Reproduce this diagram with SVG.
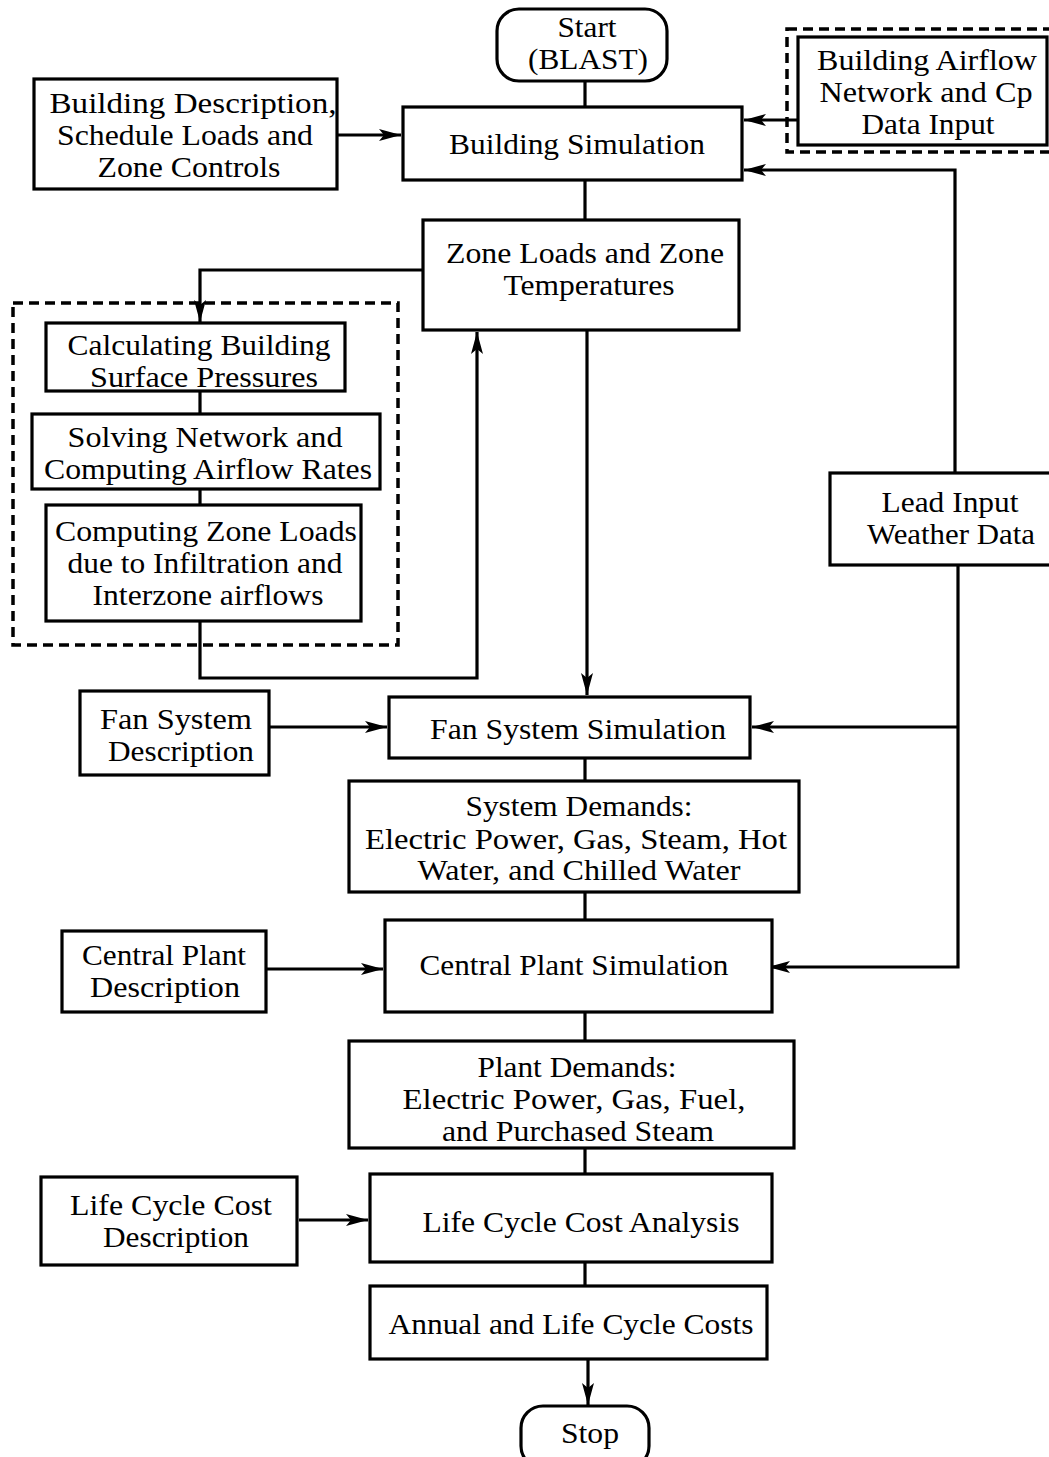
<svg xmlns="http://www.w3.org/2000/svg" width="1049" height="1457" viewBox="0 0 1049 1457">
<style>
.box{fill:#fff;stroke:#000;stroke-width:3.2}
.dash{fill:none;stroke:#000;stroke-width:3.5;stroke-dasharray:10 6}
.t{font-family:"Liberation Serif","Times New Roman",serif;font-size:29px;fill:#000;text-anchor:middle}
.c{fill:none;stroke:#000;stroke-width:3.2}
</style>
<defs>
<marker id="ah" markerUnits="userSpaceOnUse" markerWidth="24" markerHeight="14" refX="22" refY="6" orient="auto">
<path d="M0,0 L22,6 L0,12 L5,6 Z" fill="#000"/>
</marker>
</defs>
<rect width="1049" height="1457" fill="#fff"/>
<g id="connectors">
<path class="c" d="M585,81 V107"/>
<path class="c" d="M337,135 H401" marker-end="url(#ah)"/>
<path class="c" d="M798,120 H744" marker-end="url(#ah)"/>
<path class="c" d="M955,473 V170 H744" marker-end="url(#ah)"/>
<path class="c" d="M585,180 V220"/>
<path class="c" d="M423,270 H200 V322" marker-end="url(#ah)"/>
<path class="c" d="M200,391 V414"/>
<path class="c" d="M200,489 V505"/>
<path class="c" d="M200,621 V678 H477 V332" marker-end="url(#ah)"/>
<path class="c" d="M587,330 V695" marker-end="url(#ah)"/>
<path class="c" d="M269,727 H387" marker-end="url(#ah)"/>
<path class="c" d="M958,565 V967 H768" marker-end="url(#ah)"/>
<path class="c" d="M958,727 H752" marker-end="url(#ah)"/>
<path class="c" d="M585,758 V781"/>
<path class="c" d="M585,892 V920"/>
<path class="c" d="M266,969 H383" marker-end="url(#ah)"/>
<path class="c" d="M585,1012 V1041"/>
<path class="c" d="M585,1148 V1174"/>
<path class="c" d="M299,1220 H368" marker-end="url(#ah)"/>
<path class="c" d="M585,1262 V1286"/>
<path class="c" d="M588,1359 V1405" marker-end="url(#ah)"/>
</g>
<g id="start"><rect class="box" x="497" y="9" width="170" height="72" rx="22"/>
<text class="t" x="587" y="37" textLength="59" lengthAdjust="spacingAndGlyphs">Start</text><text class="t" x="588" y="69" textLength="120" lengthAdjust="spacingAndGlyphs">(BLAST)</text></g>
<g id="bldg-desc"><rect class="box" x="34" y="79" width="303" height="110"/>
<text class="t" x="193" y="113" textLength="287" lengthAdjust="spacingAndGlyphs">Building Description,</text><text class="t" x="185" y="145" textLength="256" lengthAdjust="spacingAndGlyphs">Schedule Loads and</text><text class="t" x="189" y="177" textLength="183" lengthAdjust="spacingAndGlyphs">Zone Controls</text></g>
<g id="bldg-sim"><rect class="box" x="403" y="107" width="339" height="73"/>
<text class="t" x="577" y="154" textLength="256" lengthAdjust="spacingAndGlyphs">Building Simulation</text></g>
<g id="airflow-group"><rect class="dash" x="787" y="29" width="270" height="123"/></g>
<g id="airflow-input"><rect class="box" x="798" y="37" width="249" height="108"/>
<text class="t" x="927" y="70" textLength="220" lengthAdjust="spacingAndGlyphs">Building Airflow</text><text class="t" x="926" y="102" textLength="213" lengthAdjust="spacingAndGlyphs">Network and Cp</text><text class="t" x="928" y="134" textLength="133" lengthAdjust="spacingAndGlyphs">Data Input</text></g>
<g id="zone-loads"><rect class="box" x="423" y="220" width="316" height="110"/>
<text class="t" x="585" y="263" textLength="278" lengthAdjust="spacingAndGlyphs">Zone Loads and Zone</text><text class="t" x="589" y="295" textLength="171" lengthAdjust="spacingAndGlyphs">Temperatures</text></g>
<g id="airflow-module"><rect class="dash" x="13" y="303" width="385" height="342"/></g>
<g id="calc-pressures"><rect class="box" x="46" y="323" width="299" height="68"/>
<text class="t" x="199" y="355" textLength="263" lengthAdjust="spacingAndGlyphs">Calculating Building</text><text class="t" x="204" y="387" textLength="228" lengthAdjust="spacingAndGlyphs">Surface Pressures</text></g>
<g id="solve-network"><rect class="box" x="32" y="414" width="348" height="75"/>
<text class="t" x="205" y="447" textLength="275" lengthAdjust="spacingAndGlyphs">Solving Network and</text><text class="t" x="208" y="479" textLength="328" lengthAdjust="spacingAndGlyphs">Computing Airflow Rates</text></g>
<g id="compute-zone"><rect class="box" x="46" y="505" width="315" height="116"/>
<text class="t" x="206" y="541" textLength="302" lengthAdjust="spacingAndGlyphs">Computing Zone Loads</text><text class="t" x="205" y="573" textLength="275" lengthAdjust="spacingAndGlyphs">due to Infiltration and</text><text class="t" x="208" y="605" textLength="231" lengthAdjust="spacingAndGlyphs">Interzone airflows</text></g>
<g id="weather"><rect class="box" x="830" y="473" width="222" height="92"/>
<text class="t" x="950" y="512" textLength="137" lengthAdjust="spacingAndGlyphs">Lead Input</text><text class="t" x="951" y="544" textLength="168" lengthAdjust="spacingAndGlyphs">Weather Data</text></g>
<g id="fan-desc"><rect class="box" x="80" y="691" width="189" height="84"/>
<text class="t" x="176" y="729" textLength="152" lengthAdjust="spacingAndGlyphs">Fan System</text><text class="t" x="181" y="761" textLength="146" lengthAdjust="spacingAndGlyphs">Description</text></g>
<g id="fan-sim"><rect class="box" x="389" y="697" width="361" height="61"/>
<text class="t" x="578" y="739" textLength="296" lengthAdjust="spacingAndGlyphs">Fan System Simulation</text></g>
<g id="system-demands"><rect class="box" x="349" y="781" width="450" height="111"/>
<text class="t" x="579" y="816" textLength="227" lengthAdjust="spacingAndGlyphs">System Demands:</text><text class="t" x="576" y="849" textLength="422" lengthAdjust="spacingAndGlyphs">Electric Power, Gas, Steam, Hot</text><text class="t" x="579" y="880" textLength="323" lengthAdjust="spacingAndGlyphs">Water, and Chilled Water</text></g>
<g id="plant-desc"><rect class="box" x="62" y="931" width="204" height="81"/>
<text class="t" x="164" y="965" textLength="164" lengthAdjust="spacingAndGlyphs">Central Plant</text><text class="t" x="165" y="997" textLength="150" lengthAdjust="spacingAndGlyphs">Description</text></g>
<g id="plant-sim"><rect class="box" x="385" y="920" width="387" height="92"/>
<text class="t" x="574" y="975" textLength="309" lengthAdjust="spacingAndGlyphs">Central Plant Simulation</text></g>
<g id="plant-demands"><rect class="box" x="349" y="1041" width="445" height="107"/>
<text class="t" x="577" y="1077" textLength="199" lengthAdjust="spacingAndGlyphs">Plant Demands:</text><text class="t" x="574" y="1109" textLength="343" lengthAdjust="spacingAndGlyphs">Electric Power, Gas, Fuel,</text><text class="t" x="578" y="1141" textLength="272" lengthAdjust="spacingAndGlyphs">and Purchased Steam</text></g>
<g id="lcc-desc"><rect class="box" x="41" y="1177" width="256" height="88"/>
<text class="t" x="171" y="1215" textLength="202" lengthAdjust="spacingAndGlyphs">Life Cycle Cost</text><text class="t" x="176" y="1247" textLength="146" lengthAdjust="spacingAndGlyphs">Description</text></g>
<g id="lcc-analysis"><rect class="box" x="370" y="1174" width="402" height="88"/>
<text class="t" x="581" y="1232" textLength="317" lengthAdjust="spacingAndGlyphs">Life Cycle Cost Analysis</text></g>
<g id="annual"><rect class="box" x="370" y="1286" width="397" height="73"/>
<text class="t" x="571" y="1334" textLength="365" lengthAdjust="spacingAndGlyphs">Annual and Life Cycle Costs</text></g>
<g id="stop"><rect class="box" x="521" y="1406" width="128" height="62" rx="22"/>
<text class="t" x="590" y="1443" textLength="58" lengthAdjust="spacingAndGlyphs">Stop</text></g>
</svg>
